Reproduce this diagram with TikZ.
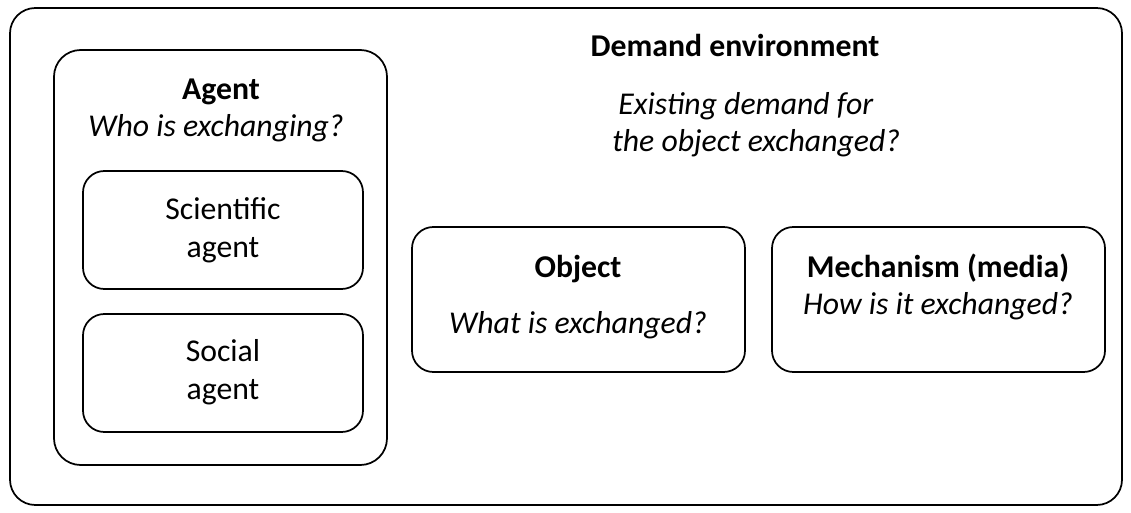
\documentclass[tikz,border=0pt]{standalone}
\usepackage{fontspec}
\setmainfont{Carlito}
\usetikzlibrary{positioning,fit}

\begin{document}
\begin{tikzpicture}[
  x=0.75pt, y=-0.75pt,
  font=\fontsize{23.8}{28.5}\selectfont,
  frame/.style={draw, line width=1.3pt, rounded corners=#1, inner sep=0pt},
  frame/.default=16pt,
  ttl/.style={font=\fontsize{23.8}{28.5}\selectfont\bfseries, inner sep=0pt, anchor=base},
  qst/.style={font=\fontsize{23.8}{28.5}\selectfont\itshape, inner sep=0pt, anchor=base},
  txt/.style={align=center, inner sep=0pt},
]
  \useasboundingbox (0,0) rectangle (1131,513);
  % boxes
  \node[frame=19pt, fit={(10,8) (1122,505)}] (env) {};
  \node[frame=20pt, fit={(54,50) (387,465)}] (agent) {};
  \node[frame, fit={(83,171) (363,289)}] (sci) {};
  \node[frame, fit={(83,314) (363,432)}] (soc) {};
  \node[frame, fit={(412,227) (745,372)}] (obj) {};
  \node[frame, fit={(772,227) (1105,372)}] (mech) {};
  % texts
  \node[ttl] (envttl) at (735,57) {Demand environment};
  \node[qst, anchor=base west] (envq1) at (618,115) {Existing demand for};
  \node[qst, anchor=base west] (envq2) at (612,152) {the object exchanged?};
  \node[ttl] (agentttl) at (221,100) {Agent};
  \node[qst] (agentq) at (216,137) {Who is exchanging?};
  \node[txt] (scitxt) at (223,230) {Scientific\\agent};
  \node[txt] (soctxt) at (223,372) {Social\\agent};
  \node[ttl] (objttl) at (578,277) {Object};
  \node[qst] (objq) at (578,333) {What is exchanged?};
  \node[ttl] (mechttl) at (938,277) {Mechanism (media)};
  \node[qst] (mechq) at (938,315) {How is it exchanged?};
\end{tikzpicture}
\end{document}
